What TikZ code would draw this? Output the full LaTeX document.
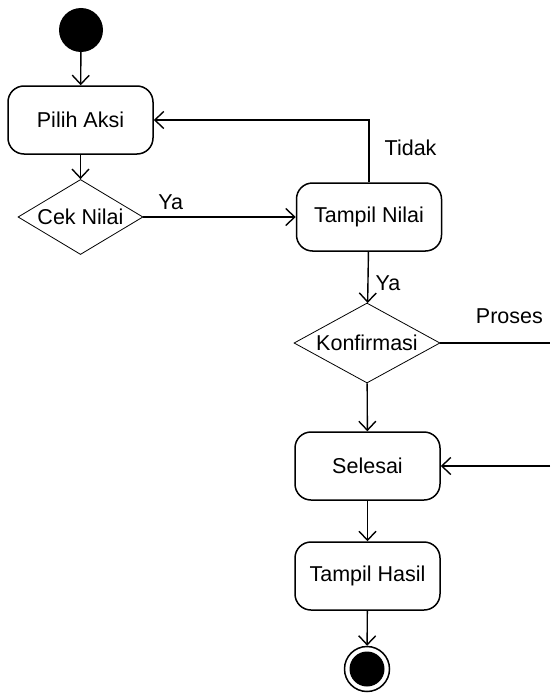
\documentclass[tikz,border=0pt]{standalone}
\usepackage{fontspec}
\setmainfont{Liberation Sans}
\usetikzlibrary{shapes.geometric, arrows.meta}

\begin{document}
\begin{tikzpicture}[x=1pt, y=-1pt,
    actbox/.style={draw, rectangle, rounded corners=16pt, line width=1.5pt,
        minimum width=145pt, minimum height=68pt, inner sep=0pt},
    decide/.style={draw, diamond, line width=0.8pt, inner sep=0pt},
    startnode/.style={circle, fill=black, minimum size=44pt, inner sep=0pt},
    endnode/.style={circle, draw, line width=1.5pt, minimum size=45pt, inner sep=0pt,
        path picture={\fill (path picture bounding box.center) circle (17.5pt);}},
    flow/.style={line width=1.4pt, -{Straight Barb[length=9pt, width=17pt, line width=1.4pt]}},
    guard/.style={inner sep=1pt}]
    \useasboundingbox (0,0) rectangle (550,693);
    \begin{scope}[font=\fontsize{21.5}{25}\selectfont]
        % states
        \node[startnode] (start) at (81,30) {};
        \node[actbox] (pilih) at (80.5,120) {Pilih Aksi};
        \node[decide, aspect=1.67, minimum width=125pt, minimum height=75pt] (cek) at (80.5,217) {Cek Nilai};
        \node[actbox] (tampilnilai) at (369,217) {Tampil Nilai};
        \node[decide, aspect=1.83, minimum width=146pt, minimum height=80pt] (konfirmasi) at (367,343) {Konfirmasi};
        \node[actbox] (selesai) at (367.5,466) {Selesai};
        \node[actbox] (tampilhasil) at (367.5,576) {Tampil Hasil};
        \node[endnode] (stop) at (367,669) {};

        % loop ends at the right border
        \coordinate (prosesout) at (550,343);
        \coordinate (prosesin) at (550,466);

        % transitions
        \draw[flow] (start) -- (pilih);
        \draw[flow] (pilih) -- (cek);
        \draw[flow] (cek) -- node[guard, pos=0.18, above=6pt] {Ya} (tampilnilai);
        \draw[flow] (tampilnilai.north) |- node[guard, pos=0.28, right=14pt] {Tidak} (pilih.east);
        \draw[flow] (tampilnilai) -- node[guard, pos=0.62, right=6pt] {Ya} (konfirmasi);
        \draw[line width=1.4pt] (konfirmasi.east) -- node[guard, pos=0.63, above=18pt] {Proses} (prosesout);
        \draw[flow] (konfirmasi) -- (selesai);
        \draw[flow] (prosesin) -- (selesai.east);
        \draw[flow] (selesai) -- (tampilhasil);
        \draw[flow] (tampilhasil) -- (stop);
    \end{scope}
\end{tikzpicture}
\end{document}
